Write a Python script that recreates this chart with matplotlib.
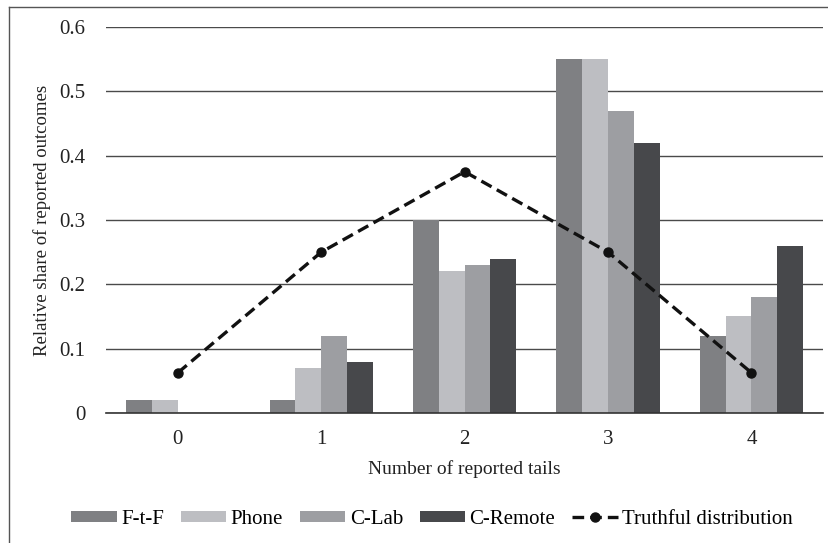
import numpy as np
import matplotlib.pyplot as plt
from matplotlib.lines import Line2D

# reported tails per treatment
tails = [0, 1, 2, 3, 4]
ftf = [0.02, 0.02, 0.30, 0.55, 0.12]
phone = [0.02, 0.07, 0.22, 0.55, 0.15]
clab = [0.0, 0.12, 0.23, 0.47, 0.18]
cremote = [0.0, 0.08, 0.24, 0.42, 0.26]
truthful = [0.0625, 0.25, 0.375, 0.25, 0.0625]

series = ["F-t-F", "Phone", "C-Lab", "C-Remote"]
colors = ["#7f8083", "#bdbec2", "#9d9ea2", "#47484b"]

plt.rcParams["font.family"] = ["Liberation Serif", "DejaVu Serif"]

fig = plt.figure(figsize=(8.29, 5.43), dpi=100)
ax = fig.add_axes([0.128, 0.2394, 0.865, 0.711])

x = np.arange(len(tails))
w = 0.18
handles = []
for i, (vals, name) in enumerate(zip([ftf, phone, clab, cremote], series)):
    b = ax.bar(x + (i - 1.5) * w, vals, width=w, color=colors[i], label=name, zorder=2)
    handles.append(b)

ln, = ax.plot(x, truthful, color="#111111", linestyle="--", linewidth=2.4, marker="o",
              markersize=6.5, dashes=(3.5, 1.8), label="Truthful distribution", zorder=3)
handles.append(ln)

ax.set_xlim(-0.5, 4.5)
ax.set_ylim(0, 0.6)
ax.set_yticks([0, 0.1, 0.2, 0.3, 0.4, 0.5, 0.6])
ax.set_yticklabels(["0", "0.1", "0.2", "0.3", "0.4", "0.5", "0.6"])
ax.set_xticks(x)
ax.set_xticklabels([str(t) for t in tails])
ax.tick_params(length=0, labelsize=15, colors="#222222")
ax.tick_params(axis="y", pad=15)
ax.tick_params(axis="x", pad=12)
ax.yaxis.grid(True, color="#4a4a4a", linewidth=1.0, zorder=0)
ax.set_axisbelow(True)
for s in ["top", "right", "left"]:
    ax.spines[s].set_visible(False)
ax.spines["bottom"].set_color("#333333")
ax.spines["bottom"].set_linewidth(1.2)
ax.spines["bottom"].set_zorder(4)

ax.set_xlabel("Number of reported tails", fontsize=14, color="#222222", labelpad=8)
ax.set_ylabel("Relative share of reported outcomes", fontsize=13.5, color="#222222", labelpad=6)

fig.legend(handles=handles, labels=series + ["Truthful distribution"],
           loc="center", bbox_to_anchor=(0.521, 0.044), ncol=5, frameon=False,
           fontsize=15, handlelength=2.2, handleheight=0.45, handletextpad=0.2,
           columnspacing=0.8)

# frame of the original figure, only left and top edges visible
fig.add_artist(Line2D([9 / 829, 9 / 829], [0, 1 - 7 / 543], transform=fig.transFigure,
                      color="#555555", linewidth=1))
fig.add_artist(Line2D([9 / 829, 1], [1 - 7 / 543, 1 - 7 / 543], transform=fig.transFigure,
                      color="#555555", linewidth=1))

fig.savefig("out.png", dpi=100)
